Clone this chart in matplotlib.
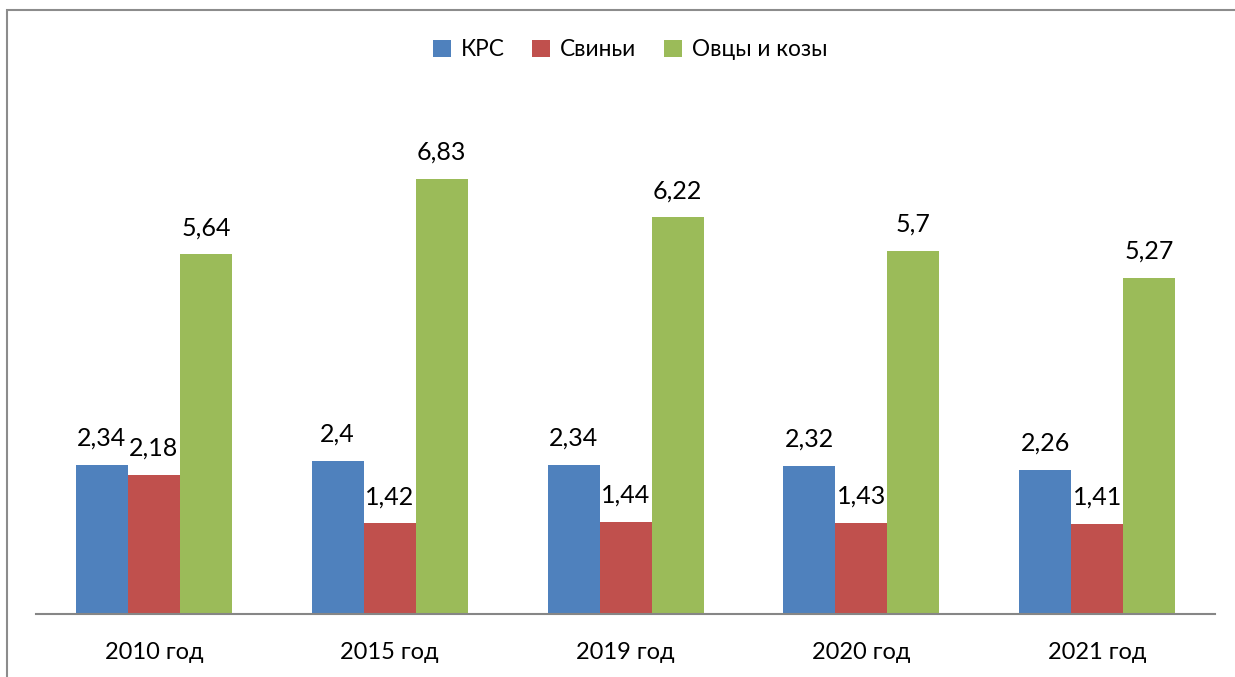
import numpy as np
import matplotlib.pyplot as plt
from matplotlib.patches import Rectangle

years = ['2010 год', '2015 год', '2019 год', '2020 год', '2021 год']
series_names = ['КРС', 'Свиньи', 'Овцы и козы']
krs = [2.34, 2.4, 2.34, 2.32, 2.26]
pigs = [2.18, 1.42, 1.44, 1.43, 1.41]
sheep = [5.64, 6.83, 6.22, 5.7, 5.27]
colors = ['#4F81BD', '#C0504D', '#9BBB59']

plt.rcParams['font.family'] = ['Lato', 'DejaVu Sans']

W, H = 1235, 677
fig = plt.figure(figsize=(W / 100, H / 100), dpi=100)
ax = fig.add_axes([36 / W, 1 - 614 / H, (1215 - 36) / W, (614 - 104) / H])

# outer frame, cut at right and bottom like the screenshot
fig.patches.append(Rectangle((7 / W, -0.1), 1.2, 1 - 10 / H + 0.1,
                             transform=fig.transFigure, fill=False,
                             edgecolor='#8c8c8c', linewidth=1.5))

x = np.arange(len(years))
w = 52 / 235.8
for i, (vals, name) in enumerate(zip([krs, pigs, sheep], series_names)):
    bars = ax.bar(x + (i - 1) * w, vals, w, color=colors[i], label=name)
    for b, v in zip(bars, vals):
        ax.annotate(f'{v:g}'.replace('.', ','),
                    (b.get_x() + b.get_width() / 2, b.get_height()),
                    xytext=(0, 11), textcoords='offset points',
                    ha='center', va='bottom', fontsize=18)

ax.set_xlim(-0.5, len(years) - 0.5)
ax.set_ylim(0, 8)
ax.set_xticks(x)
ax.set_xticklabels(years, fontsize=17)
ax.tick_params(axis='x', length=0, pad=20)
ax.set_yticks([])
for s in ['top', 'right', 'left']:
    ax.spines[s].set_visible(False)
ax.spines['bottom'].set_color('#868686')
ax.spines['bottom'].set_linewidth(1.5)

fig.legend(loc='center', bbox_to_anchor=(630 / W, 1 - 50 / H), ncol=3,
           frameon=False, fontsize=16.3, handlelength=0.8, handleheight=0.8,
           handletextpad=0.45, columnspacing=1.2)

fig.savefig('out.png', dpi=100)
